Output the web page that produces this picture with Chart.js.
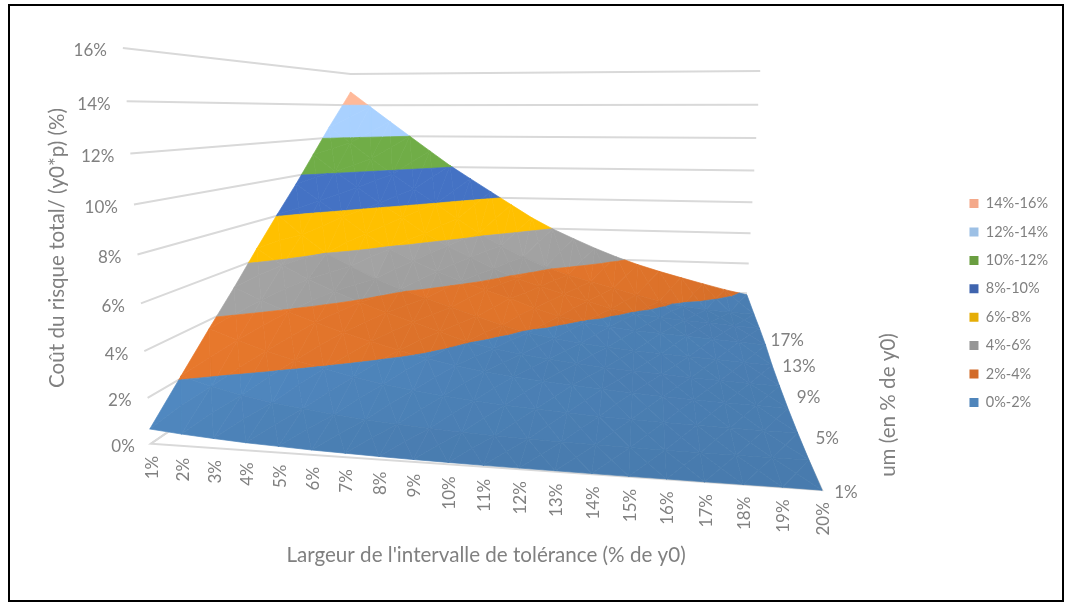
<!DOCTYPE html>
<html>
<head>
<meta charset="utf-8">
<title>Coût du risque total</title>
<script src="https://cdn.jsdelivr.net/npm/chart.js@4"></script>
<style>
  html, body { margin: 0; background: #fff; }
  #wrap { position: relative; width: 1071px; height: 608px; }
  #frame { position: absolute; left: 8px; top: 4px; width: 1052px; height: 594px; border: 2.5px solid #000; pointer-events: none; }
</style>
</head>
<body>
<div id="wrap">
  <canvas id="surface" width="1071" height="608"></canvas>
  <div id="frame"></div>
</div>
<script>
// axes
const tolerance = [1,2,3,4,5,6,7,8,9,10,11,12,13,14,15,16,17,18,19,20];
const depthRows = [1,3,5,7,9,11,13,15,17,20];
const depthTicks = [1,5,9,13,17];
const costTicks = [0,2,4,6,8,10,12,14,16];

// coût (%) for each depth row, one value per tolerance
const costD1  = [0.65,0.52,0.42,0.33,0.27,0.21,0.17,0.13,0.10,0.08,0.06,0.05,0.04,0.03,0.02,0.02,0.01,0.01,0.01,0.00];
const costD3  = [2.12,1.70,1.38,1.12,0.92,0.75,0.60,0.48,0.38,0.30,0.24,0.19,0.15,0.12,0.10,0.08,0.07,0.06,0.05,0.05];
const costD5  = [3.60,3.10,2.65,2.25,1.92,1.60,1.33,1.10,0.92,0.78,0.65,0.55,0.46,0.38,0.32,0.27,0.23,0.20,0.17,0.15];
const costD7  = [5.05,4.45,3.90,3.42,2.98,2.58,2.20,1.85,1.55,1.32,1.15,1.00,0.87,0.75,0.65,0.56,0.48,0.42,0.36,0.30];
const costD9  = [6.60,5.75,5.05,4.45,3.90,3.40,2.95,2.50,2.05,1.72,1.50,1.30,1.15,1.00,0.90,0.80,0.70,0.63,0.56,0.50];
const costD11 = [8.10,7.00,6.00,5.30,4.65,4.10,3.65,3.20,2.75,2.30,1.92,1.68,1.48,1.32,1.20,1.10,1.00,0.92,0.83,0.75];
const costD13 = [9.55,8.60,7.68,6.75,5.85,5.22,4.65,4.12,3.65,3.20,2.70,2.25,1.95,1.75,1.60,1.50,1.40,1.30,1.20,1.10];
const costD15 = [11.10,10.10,9.15,8.25,7.40,6.45,5.72,5.05,4.40,3.85,3.40,3.00,2.60,2.20,1.95,1.77,1.65,1.55,1.45,1.35];
const costD17 = [12.65,11.70,10.72,9.78,8.88,7.98,7.05,6.15,5.40,4.72,4.12,3.65,3.25,2.88,2.50,2.15,1.87,1.72,1.63,1.55];
const costD20 = [14.85,13.90,12.95,12.00,11.05,10.10,9.25,8.40,7.55,6.70,5.98,5.35,4.75,4.20,3.72,3.30,2.92,2.55,2.20,1.90];
const costRows = [costD1, costD3, costD5, costD7, costD9, costD11, costD13, costD15, costD17, costD20];

// bands
const bandLabels = ['0%-2%','2%-4%','4%-6%','6%-8%','8%-10%','10%-12%','12%-14%','14%-16%'];
const bandLimits = [0,2,4,6,8,10,12,14,16];
const bandColors = ['#518ac3','#e8782c','#a3a3a3','#ffc000','#4472c4','#70ad47','#a9d1ff','#ffb999'];
const legendColors = ['#4f85bb','#d26b29','#969696','#e5ad06','#3f64ae','#6a9e40','#9dc0e5','#f4a98a'];

// screen corners of the 3D box (floor and top of the walls): front-left, front-right, back-right, back-left
const floorQuad = [[150,443.5],[822,490],[745,322],[350,306]];
const topQuad   = [[122,47],[860,36],[760,70],[350,73]];

function quadMap(q) {
  const [[x0,y0],[x1,y1],[x2,y2],[x3,y3]] = q;
  const dx1 = x1-x2, dx2 = x3-x2, sx = x0-x1+x2-x3;
  const dy1 = y1-y2, dy2 = y3-y2, sy = y0-y1+y2-y3;
  const den = dx1*dy2-dx2*dy1;
  const g = (sx*dy2-dx2*sy)/den, h = (dx1*sy-sx*dy1)/den;
  const a = x1-x0+g*x1, b = x3-x0+h*x3, d = y1-y0+g*y1, e = y3-y0+h*y3;
  return (s, r) => {
    const w = g*s+h*r+1;
    return [(a*s+b*r+x0)/w, (d*s+e*r+y0)/w];
  };
}
const floorMap = quadMap(floorQuad), topMap = quadMap(topQuad);

// tolérance, um, coût -> plot position
function project(t, d, c) {
  const s = (t-1)/19, r = (d-1)/19, q = c/16;
  const k = 0.916*q/(1-0.084*q);
  const f = floorMap(s, r), u = topMap(s, r);
  return {x: f[0]+(u[0]-f[0])*k, y: f[1]+(u[1]-f[1])*k};
}

// keep the part of a polygon between two cost levels
function clipLevel(poly, level, keepAbove) {
  const out = [];
  for (let i = 0; i < poly.length; i++) {
    const a = poly[i], b = poly[(i+1)%poly.length];
    const ina = keepAbove ? a[2] >= level : a[2] <= level;
    const inb = keepAbove ? b[2] >= level : b[2] <= level;
    if (ina) out.push(a);
    if (ina !== inb) {
      const m = (level-a[2])/(b[2]-a[2]);
      out.push([a[0]+(b[0]-a[0])*m, a[1]+(b[1]-a[1])*m, level]);
    }
  }
  return out;
}

function shade(hex, f) {
  const n = parseInt(hex.slice(1), 16);
  const ch = v => Math.min(255, Math.round(v*f));
  return `rgb(${ch(n>>16)},${ch((n>>8)&255)},${ch(n&255)})`;
}

// Excel style facet: steep parts lighter, flat parts darker
function facetShade(tri) {
  const [p, q, w] = tri;
  const ux = q[0]-p[0], uy = q[1]-p[1], uz = q[2]-p[2];
  const vx = w[0]-p[0], vy = w[1]-p[1], vz = w[2]-p[2];
  const nz = ux*vy-uy*vx;
  const gt = -(uy*vz-uz*vy)/nz, gd = -(uz*vx-ux*vz)/nz;
  const light = Math.max(0, Math.min(1, (gd*0.8-gt*0.4)/0.8));
  return 0.89+0.11*light;
}

const surfaceSets = [];
for (let j = 0; j < depthRows.length-1; j++) {
  for (let i = 0; i < tolerance.length-1; i++) {
    const a = [tolerance[i], depthRows[j], costRows[j][i]];
    const b = [tolerance[i+1], depthRows[j], costRows[j][i+1]];
    const e = [tolerance[i+1], depthRows[j+1], costRows[j+1][i+1]];
    const f = [tolerance[i], depthRows[j+1], costRows[j+1][i]];
    const mid = [(a[0]+b[0])/2, (a[1]+f[1])/2, (a[2]+b[2]+e[2]+f[2])/4];
    [[a,b,mid],[b,e,mid],[e,f,mid],[f,a,mid]].forEach(tri => {
      const tone = facetShade(tri);
      bandLabels.forEach((lab, k) => {
        let poly = clipLevel(tri, bandLimits[k], true);
        if (poly.length) poly = clipLevel(poly, bandLimits[k+1], false);
        if (poly.length < 3) return;
        const pts = poly.map(p => project(p[0], p[1], p[2]));
        pts.push(pts[0]);
        const col = shade(bandColors[k], tone);
        surfaceSets.push({data: pts, showLine: true, fill: 'shape', backgroundColor: col,
          borderColor: col, borderWidth: 0.7, pointRadius: 0, order: 0});
      });
    });
  }
}

// walls and floor lines, behind the surface
const gridSets = costTicks.map(c => ({
  data: [project(1,1,c), project(1,20,c), project(20,20,c)],
  showLine: true, fill: false, borderColor: '#d9d9d9', borderWidth: 2, pointRadius: 0, order: 5
}));
gridSets.push({
  data: [project(1,20,0), project(1,1,0), project(20,1,0), project(20,20,0)],
  showLine: true, fill: false, borderColor: '#d9d9d9', borderWidth: 2, pointRadius: 0, order: 5
});

const textColor = '#808080';
const tickFont = '17px Lato';
const titleFont = '20.6px Lato';

const axisText = {
  id: 'axisText',
  afterDraw(chart) {
    const {ctx, scales: {x, y}} = chart;
    const at = p => [x.getPixelForValue(p.x), y.getPixelForValue(p.y)];
    ctx.save();
    ctx.fillStyle = textColor;
    ctx.font = tickFont;
    ctx.textBaseline = 'middle';
    ctx.textAlign = 'right';
    costTicks.forEach(c => {
      const [px, py] = at(project(1,1,c));
      ctx.fillText(c+'%', px-16, py+3);
    });
    tolerance.forEach(t => {
      const [px, py] = at(project(t,1,0));
      ctx.save();
      ctx.translate(px+1.5, py+12);
      ctx.rotate(-Math.PI/2);
      ctx.fillText(t+'%', 0, 0);
      ctx.restore();
    });
    ctx.textAlign = 'left';
    depthTicks.forEach(d => {
      const [px, py] = at(project(20,d,0));
      ctx.fillText(d+'%', px+(d === 1 ? 12 : 18), py+2);
    });
    ctx.font = titleFont;
    ctx.textAlign = 'center';
    ctx.fillText("Largeur de l'intervalle de tolérance (% de y0)", 486, 555);
    ctx.save();
    ctx.translate(57, 248);
    ctx.rotate(-Math.PI/2);
    ctx.fillText('Coût du risque total/ (y0*p) (%)', 0, 0);
    ctx.restore();
    ctx.translate(888, 405);
    ctx.rotate(-Math.PI/2);
    ctx.fillText('um (en % de y0)', 0, 0);
    ctx.restore();
  }
};

const chart = new Chart(document.getElementById('surface').getContext('2d'), {
  type: 'scatter',
  data: {datasets: surfaceSets.concat(gridSets)},
  plugins: [axisText],
  options: {
    responsive: false,
    animation: false,
    events: [],
    layout: {padding: {right: 13, bottom: 2}},
    scales: {
      x: {type: 'linear', display: false, min: 0, max: 960},
      y: {type: 'linear', display: false, reverse: true, min: 0, max: 606}
    },
    plugins: {
      tooltip: {enabled: false},
      legend: {
        position: 'right',
        labels: {
          boxWidth: 9, boxHeight: 9, padding: 13.9,
          color: textColor, font: {family: 'Lato', size: 14.5},
          generateLabels: () => bandLabels.map((lab, k) => ({
            text: lab, fillStyle: legendColors[k], strokeStyle: legendColors[k], lineWidth: 0,
            fontColor: textColor, datasetIndex: k
          })).reverse()
        }
      }
    }
  }
});
// plot units are page pixels: match the x range to the room left by the legend
chart.options.scales.x.max = chart.chartArea.width;
chart.options.scales.y.max = chart.chartArea.height;
chart.update();
</script>
</body>
</html>
